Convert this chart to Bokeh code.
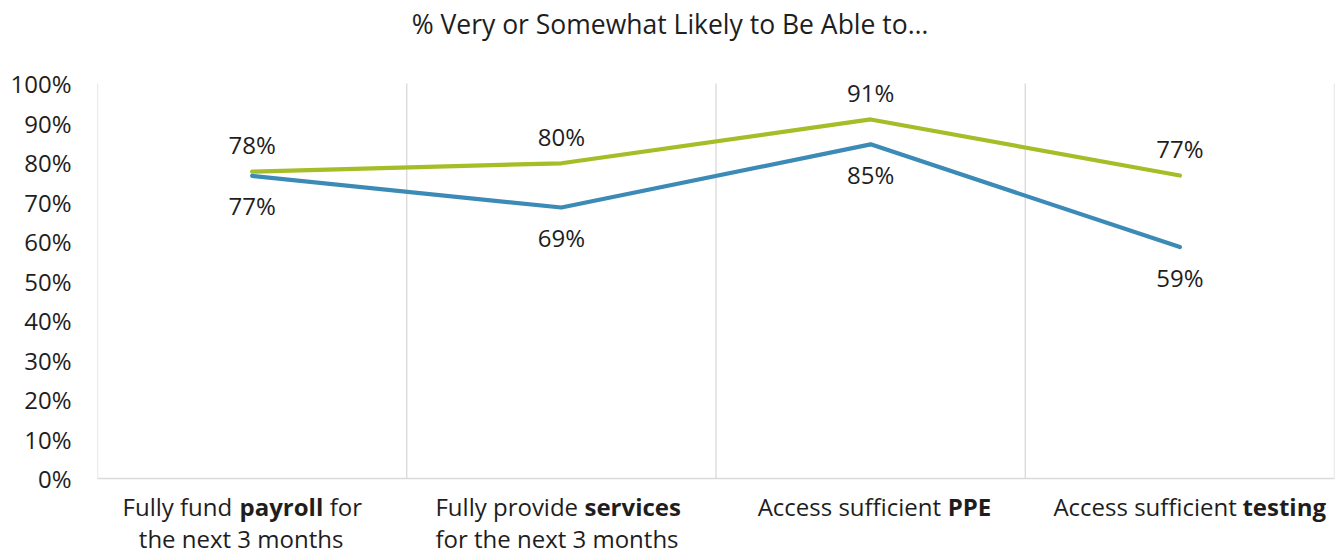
from bokeh.plotting import figure
from bokeh.models import (ColumnDataSource, FixedTicker, PrintfTickFormatter,
                          Label, LabelSet, Range1d)
from bokeh.core.properties import value
from bokeh.embed import file_html
from bokeh.resources import INLINE

# ---- data ----
categories = ["Fully fund payroll for the next 3 months",
              "Fully provide services for the next 3 months",
              "Access sufficient PPE",
              "Access sufficient testing"]
green_values = [77.7, 79.8, 90.9, 76.7]
blue_values = [76.6, 68.6, 84.6, 58.6]
y_ticks = list(range(0, 101, 10))

GREEN = "#A5BD27"
BLUE = "#3C8AB6"
TXT = "#1E1E1E"
GRID = "#D9D9D9"
FONT = "Open Sans"
FS = "24px"

n = len(categories)
xs = [i + 0.5 for i in range(n)]
bounds = list(range(n + 1))

# frame spans full height; 0..100 maps to pixel rows 478..83
PX_PER = (478 - 83) / 100.0
y_lo = -(555 - 478) / PX_PER
y_hi = 100 + 83 / PX_PER

p = figure(width=1342, height=555, output_backend="svg", toolbar_location=None,
           x_range=Range1d(0, n), y_range=Range1d(y_lo, y_hi),
           min_border_left=97, min_border_right=8, min_border_top=0, min_border_bottom=0)
p.outline_line_color = None
p.background_fill_color = "white"
p.border_fill_color = "white"

# axes
p.xaxis.visible = False
p.yaxis.ticker = FixedTicker(ticks=y_ticks)
p.yaxis.formatter = PrintfTickFormatter(format="%d%%")
p.yaxis.axis_line_color = None
p.yaxis.major_tick_line_color = None
p.yaxis.minor_tick_line_color = None
p.yaxis.major_tick_out = 0
p.yaxis.major_label_standoff = 26
p.yaxis.major_label_text_font = FONT
p.yaxis.major_label_text_font_size = FS
p.yaxis.major_label_text_color = TXT
p.xgrid.visible = False
p.ygrid.visible = False

# vertical lines at category boundaries, and baseline
p.segment(x0=bounds, y0=[0] * len(bounds), x1=bounds, y1=[100] * len(bounds),
          line_color=GRID, line_width=1.3)
p.segment(x0=[0], y0=[0], x1=[n], y1=[0], line_color=GRID, line_width=1.6)

# lines
p.line(xs, green_values, line_color=GREEN, line_width=4.2, line_join="round", line_cap="round")
p.line(xs, blue_values, line_color=BLUE, line_width=4.2, line_join="round", line_cap="round")

# data labels
gsrc = ColumnDataSource(dict(x=xs, y=green_values, t=[f"{round(v)}%" for v in green_values]))
bsrc = ColumnDataSource(dict(x=xs, y=blue_values, t=[f"{round(v)}%" for v in blue_values]))
p.add_layout(LabelSet(x="x", y="y", text="t", source=gsrc, y_offset=27,
                      text_align="center", text_baseline="middle",
                      text_font=value(FONT), text_font_size=value(FS), text_color=value(TXT)))
p.add_layout(LabelSet(x="x", y="y", text="t", source=bsrc, y_offset=-30,
                      text_align="center", text_baseline="middle",
                      text_font=value(FONT), text_font_size=value(FS), text_color=value(TXT)))

# title
p.add_layout(Label(x=n / 2, y=100, x_offset=-46, y_offset=60,
                   text="% Very or Somewhat Likely to Be Able to…",
                   text_align="center", text_baseline="middle", text_font=FONT,
                   text_font_size="26.5px", text_color=TXT))

# category labels (mixed bold pieces)
cat_lines = [
    [[("Fully fund ", "normal", -129.6), ("payroll", "bold", -12.6), ("for", "normal", 77.5)],
     [("the next 3 months", "normal", None)]],
    [[("Fully provide ", "normal", -125.9), ("services", "bold", 23.1)],
     [("for the next 3 months", "normal", None)]],
    [[("Access sufficient ", "normal", -113.0), ("PPE", "bold", 77.0)]],
    [[("Access sufficient ", "normal", -126.5), ("testing", "bold", 62.5)]],
]
line_centers = [[-11.0, -11.0], [-4.4, -4.4], [3.0], [9.5]]
for i, lines in enumerate(cat_lines):
    for j, pieces in enumerate(lines):
        yoff = -28 - 32 * j
        for text, style, off in pieces:
            if off is None:
                p.add_layout(Label(x=xs[i], y=0, x_offset=line_centers[i][j], y_offset=yoff, text=text,
                                   text_align="center", text_baseline="middle", text_font=FONT,
                                   text_font_size=FS, text_font_style=style, text_color=TXT))
            else:
                p.add_layout(Label(x=xs[i], y=0, x_offset=off, y_offset=yoff, text=text,
                                   text_align="left", text_baseline="middle", text_font=FONT,
                                   text_font_size=FS, text_font_style=style, text_color=TXT))

open("out.html", "w").write(file_html(p, INLINE))
